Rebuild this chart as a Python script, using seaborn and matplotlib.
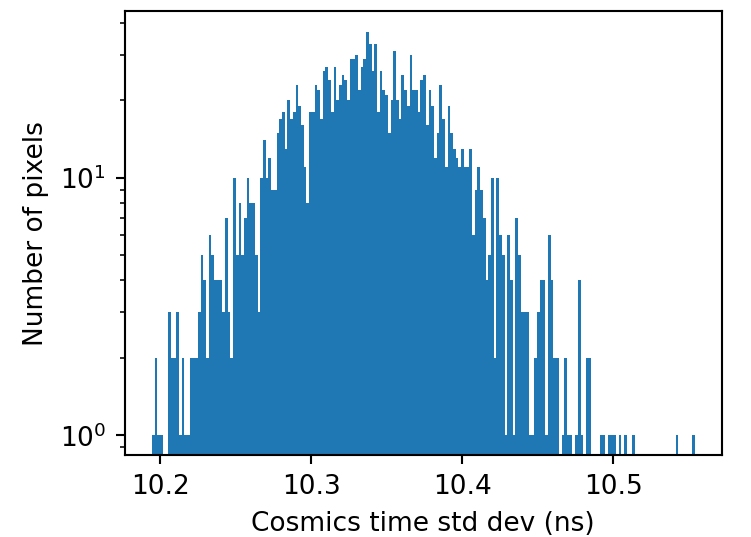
import numpy as np
import pandas as pd
import matplotlib
matplotlib.use("Agg")
import matplotlib.pyplot as plt
import seaborn as sns

# Histogram: 200 bins over the data range
x_min = 10.1944
x_max = 10.5538
n_bins = 200

counts = [
    1, 2, 1, 1, 0, 0, 3, 2, 2, 3, 1, 2, 1, 1, 2, 2, 2, 3, 5, 4,
    2, 6, 5, 4, 4, 4, 3, 7, 3, 2, 10, 5, 8, 5, 7, 10, 8, 8, 5, 3,
    10, 14, 10, 12, 9, 9, 15, 17, 18, 13, 20, 17, 18, 23, 19, 16, 11, 8, 18, 18,
    23, 22, 17, 26, 27, 24, 18, 27, 20, 23, 25, 24, 20, 29, 29, 30, 22, 27, 29, 37,
    33, 26, 33, 18, 26, 22, 21, 15, 20, 31, 20, 17, 25, 22, 19, 30, 22, 22, 18, 24,
    25, 16, 22, 19, 12, 15, 23, 17, 11, 19, 15, 13, 12, 11, 13, 11, 11, 13, 6, 9,
    11, 9, 7, 4, 5, 10, 2, 10, 6, 5, 1, 6, 4, 1, 7, 5, 3, 3, 3, 1,
    1, 2, 3, 4, 4, 1, 6, 4, 2, 2, 0, 1, 2, 1, 1, 0, 1, 4, 1, 0,
    2, 2, 0, 0, 0, 1, 1, 0, 1, 1, 1, 0, 1, 0, 1, 0, 0, 1, 0, 0,
    0, 0, 0, 0, 0, 0, 0, 0, 0, 0, 0, 0, 0, 1, 0, 0, 0, 0, 0, 1,
]

x_ticks = [10.2, 10.3, 10.4, 10.5]
x_label = "Cosmics time std dev (ns)"
y_label = "Number of pixels"

width = (x_max - x_min) / n_bins
centers = x_min + (np.arange(n_bins) + 0.5) * width
df = pd.DataFrame({"std": centers, "n": counts})

DPI = 190
fig = plt.figure(figsize=(751 / DPI, 537 / DPI), dpi=DPI)
ax = fig.add_axes([0.1660, 0.1518, 0.7949, 0.8268])

sns.histplot(data=df, x="std", weights="n", bins=n_bins, binrange=(x_min, x_max),
             color="#1f77b4", alpha=1.0, linewidth=0, edgecolor="none", ax=ax)
ax.set_yscale("log")

span = x_max - x_min
ax.set_xlim(x_min - 0.05 * span, x_max + 0.05 * span)
lmax = np.log10(max(counts))
ax.set_ylim(10 ** (-0.05 * lmax), 10 ** (1.05 * lmax))
ax.set_xticks(x_ticks)
ax.set_xlabel(x_label)
ax.set_ylabel(y_label)

fig.savefig("out.png", dpi=DPI)
